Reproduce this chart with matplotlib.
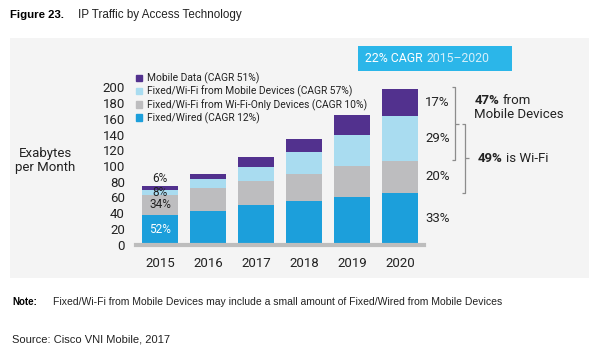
import matplotlib as mpl
import matplotlib.pyplot as plt
from matplotlib.patches import Rectangle, Patch
import numpy as np

mpl.use('agg')

# данные (эксабайт в месяц)
years = ['2015', '2016', '2017', '2018', '2019', '2020']
fixed_wired = [38, 43, 50, 55, 61, 66]
wifi_only = [25, 29, 31, 35, 39, 40]
wifi_mobile = [6, 11, 18, 28, 40, 58]
mobile_data = [5, 7, 12, 17, 25, 34]

series_names = ['Fixed/Wired (CAGR 12%)',
                'Fixed/Wi-Fi from Wi-Fi-Only Devices (CAGR 10%)',
                'Fixed/Wi-Fi from Mobile Devices (CAGR 57%)',
                'Mobile Data (CAGR 51%)']
pct_first = ['52%', '34%', '8%', '6%']
pct_last = ['33%', '20%', '29%', '17%']

colors = ['#1c9fdb', '#bdbdbf', '#a9dcf0', '#52318e']
txt = '#222222'
chart_font = 'Roboto'
doc_font = 'Liberation Sans'

W, H = 600, 355
fig = plt.figure(figsize=(W / 100, H / 100), dpi=100)


def fx(px):
    return px / W


def fy(py):
    return 1 - py / H


# светло-серая подложка
fig.patches.append(Rectangle((fx(10), fy(278)), fx(579), 240 / H, transform=fig.transFigure,
                             facecolor='#f4f4f4', edgecolor='none', zorder=-2))
# плашка CAGR
fig.patches.append(Rectangle((fx(358), fy(71)), fx(154), 25 / H, transform=fig.transFigure,
                             facecolor='#2bb6e9', edgecolor='none', zorder=-1))

ax = fig.add_axes([fx(136), fy(244.5), fx(288), 157 / H])
ax.set_facecolor('none')

x = np.arange(len(years))
width = 0.77
stack = [fixed_wired, wifi_only, wifi_mobile, mobile_data]
bottom = np.zeros(len(years))
bars = []
for vals, col in zip(stack, colors):
    b = ax.bar(x, vals, width, bottom=bottom, color=col, zorder=2)
    bars.append((b, bottom.copy(), np.array(vals)))
    bottom += vals
total = bottom

ax.set_xlim(-0.5, 5.5)
ax.set_ylim(0, 200)
ax.set_yticks(range(0, 201, 20))
ax.set_xticks(x, labels=years)
for s in ax.spines.values():
    s.set_visible(False)
ax.tick_params(axis='both', length=0, labelsize=9.5, colors=txt)
ax.tick_params(axis='y', pad=8)
ax.tick_params(axis='x', pad=9)
for lab in ax.get_xticklabels() + ax.get_yticklabels():
    lab.set_family(chart_font)
ax.axhline(0, color='#bdbdbd', lw=3, zorder=3, clip_on=False)

# проценты в столбике 2015
for i, (b, bot, vals) in enumerate(bars):
    if i == 3:
        ypos, va = total[0] + 1.5, 'bottom'
    else:
        ypos, va = bot[0] + vals[0] / 2, 'center'
    ax.text(x[0], ypos, pct_first[i], ha='center', va=va, fontsize=8.5,
            color='white' if i == 0 else txt, family=chart_font, zorder=4)

# проценты справа от 2020
for i, (b, bot, vals) in enumerate(bars):
    ax.annotate(pct_last[i], xy=(x[-1] + width / 2, bot[-1] + vals[-1] / 2),
                xytext=(5, 0), textcoords='offset points', ha='left', va='center',
                fontsize=9.5, color=txt, family=chart_font, annotation_clip=False)

ax.set_ylabel('Exabytes\nper Month', rotation=0, fontsize=9.5, color=txt, family=chart_font,
              linespacing=1.1, ha='center', va='center')
ax.yaxis.set_label_coords((45 - 136) / 288, (244.5 - 161) / 157)

# скобки справа
b1_lo, b1_hi = fixed_wired[-1] + wifi_only[-1] + 2, total[-1] + 2
b1_mid = (b1_lo + b1_hi) / 2
b2_lo, b2_hi = fixed_wired[-1], b1_mid
b2_mid = (b2_lo + b2_hi) / 2
bx1, bx2, tk = 6.15, 6.36, 0.07
br = dict(color='#8c8c8c', lw=0.9, clip_on=False, solid_capstyle='butt')
ax.plot([bx1 - tk, bx1, bx1, bx1 - tk], [b1_hi, b1_hi, b1_lo, b1_lo], **br)
ax.plot([bx1, bx1 + tk], [b1_mid, b1_mid], **br)
ax.plot([bx2 - tk, bx2, bx2, bx2 - tk], [b2_hi, b2_hi, b2_lo, b2_lo], **br)
ax.plot([bx2, bx2 + tk], [b2_mid, b2_mid], **br)

t1 = ax.text(6.55, 183, '47%', fontsize=9.5, fontweight='bold', color=txt, family=chart_font,
             va='center', ha='left', clip_on=False)
ax.annotate('from', xy=(1, 0), xycoords=t1, xytext=(2.5, 0), textcoords='offset points',
            va='bottom', ha='left', fontsize=9.5, color=txt, family=chart_font)
ax.text(6.55, 166, 'Mobile Devices', fontsize=9.5, color=txt, family=chart_font,
        va='center', ha='left')
t2 = ax.text(6.62, b2_mid, '49%', fontsize=9.5, fontweight='bold', color=txt, family=chart_font,
             va='center', ha='left')
ax.annotate('is Wi-Fi', xy=(1, 0), xycoords=t2, xytext=(2.5, 0), textcoords='offset points',
            va='bottom', ha='left', fontsize=9.5, color=txt, family=chart_font)

# текст плашки CAGR
c1 = fig.text(fx(365), fy(58.5), '22% CAGR', fontsize=8.8, color='white', family=chart_font,
              va='center', ha='left')
ax.annotate('2015\u20132020', xy=(1, 0), xycoords=c1, xytext=(2.5, 0), textcoords='offset points',
            va='bottom', ha='left', fontsize=8.8, color='#d4effa', family=chart_font,
            annotation_clip=False)

# легенда
handles = [Patch(color=c) for c in colors][::-1]
leg = ax.legend(handles, series_names[::-1], loc='upper left', bbox_to_anchor=(fx(136), fy(72.5)),
                bbox_transform=fig.transFigure, frameon=False,
                prop={'family': chart_font, 'size': 7.4}, handlelength=0.6, handleheight=0.6,
                handletextpad=0.5, labelspacing=0.17, borderpad=0, borderaxespad=0,
                labelcolor=txt)
leg.set_zorder(1)

# заголовок, примечание, источник
fig.text(fx(10), fy(15), 'Figure 23.', fontsize=8.2, fontweight='bold', color='black',
         family=doc_font, va='center', ha='left')
fig.text(fx(78), fy(15), 'IP Traffic by Access Technology', fontsize=8.4, color=txt,
         family=doc_font, va='center', ha='left')
fig.text(fx(12), fy(302), 'Note:', fontsize=7, fontweight='bold', color='black',
         family=doc_font, va='center', ha='left')
fig.text(fx(53), fy(302), 'Fixed/Wi-Fi from Mobile Devices may include a small amount of '
         'Fixed/Wired from Mobile Devices', fontsize=7.5, color=txt, family=doc_font,
         va='center', ha='left')
fig.text(fx(12), fy(340), 'Source: Cisco VNI Mobile, 2017', fontsize=8, color=txt,
         family=doc_font, va='center', ha='left')

fig.savefig('out.png', dpi=100)
plt.close(fig)
